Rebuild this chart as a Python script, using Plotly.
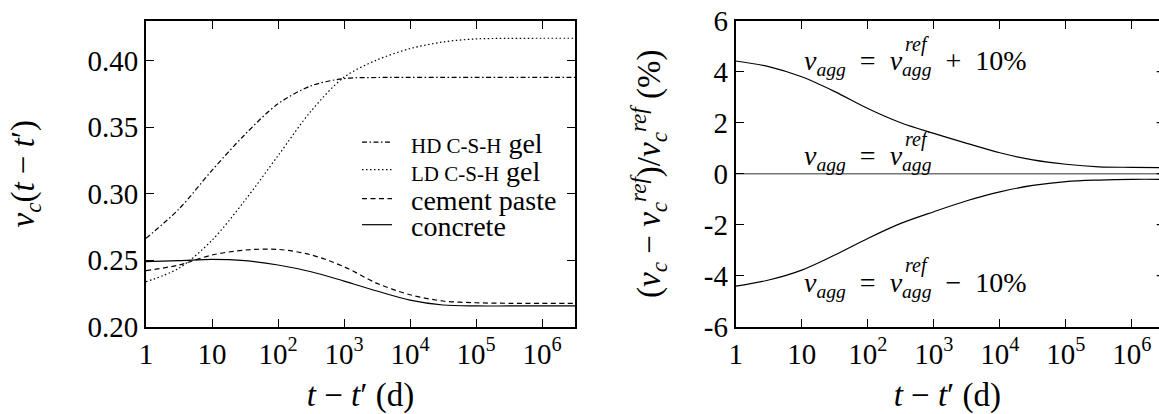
import plotly.graph_objects as go

# ---------------- data ----------------
t_left = [1, 3.162, 10, 31.62, 100, 316.2, 1000, 3162, 1e4, 3.162e4, 1e5, 3.162e5, 1e6, 3.162e6]
hd_csh = [0.2664, 0.2885, 0.3175, 0.3445, 0.3675, 0.3810, 0.3865, 0.3873, 0.3874, 0.3874, 0.3874, 0.3874, 0.3874, 0.3874]
ld_csh = [0.2338, 0.2440, 0.2650, 0.2950, 0.3285, 0.3620, 0.3875, 0.4005, 0.4090, 0.4140, 0.4163, 0.4167, 0.4168, 0.4168]
cement_paste = [0.2421, 0.2464, 0.2539, 0.2576, 0.2581, 0.2540, 0.2451, 0.2326, 0.2240, 0.2193, 0.2180, 0.2176, 0.2176, 0.2176]
concrete = [0.2489, 0.2496, 0.2506, 0.2496, 0.2464, 0.2413, 0.2343, 0.2268, 0.2200, 0.2163, 0.2156, 0.2156, 0.2156, 0.2156]

t_right = [1, 3.162, 10, 31.62, 100, 316.2, 1000, 3162, 1e4, 3.162e4, 1e5, 3.162e5, 1e6, 3.162e6]
agg_plus10 = [4.42, 4.20, 3.80, 3.22, 2.56, 2.00, 1.58, 1.19, 0.82, 0.54, 0.37, 0.27, 0.25, 0.235]
agg_ref = [0, 0, 0, 0, 0, 0, 0, 0, 0, 0, 0, 0, 0, 0]
agg_minus10 = [-4.41, -4.17, -3.78, -3.19, -2.54, -1.95, -1.49, -1.06, -0.71, -0.46, -0.31, -0.25, -0.22, -0.22]

x_tickvals = [1, 10, 100, 1e3, 1e4, 1e5, 1e6]
x_ticktext = ["1", "10", "10<sup>2</sup>", "10<sup>3</sup>", "10<sup>4</sup>", "10<sup>5</sup>", "10<sup>6</sup>"]
yl_tickvals = [0.20, 0.25, 0.30, 0.35, 0.40]
yl_ticktext = ["0.20", "0.25", "0.30", "0.35", "0.40"]
yr_tickvals = [-6, -4, -2, 0, 2, 4, 6]
yr_ticktext = ["-6", "-4", "-2", "0", "2", "4", "6"]

legend_names = [
    "\u00a0\u00a0<span style='font-size:21px'>HD C-S-H</span> gel",
    "\u00a0\u00a0<span style='font-size:21px'>LD C-S-H</span> gel",
    "\u00a0\u00a0cement paste",
    "\u00a0\u00a0concrete",
]

# ---------------- figure ----------------
W, H = 1159, 414
FONT = "Liberation Serif, Times New Roman, serif"
FS_TICK = 29
FS_TITLE = 33
FS_LEG = 28
FS_ANN = 28

fig = go.Figure()

line_specs = [
    (hd_csh, legend_names[0], "5px,2.5px,1.5px,2.5px", "legend"),
    (ld_csh, legend_names[1], "1.5px,2.5px", "legend2"),
    (cement_paste, legend_names[2], "5px,3.5px", "legend3"),
    (concrete, legend_names[3], "solid", "legend4"),
]
for ys, name, dash, lg in line_specs:
    fig.add_trace(go.Scatter(
        x=t_left, y=ys, name=name, mode="lines", legend=lg,
        line=dict(color="black", width=1.2, dash=dash, shape="spline", smoothing=0.9),
        xaxis="x", yaxis="y",
    ))

for ys, col, w in [(agg_plus10, "black", 1.2), (agg_ref, "#777777", 1.6), (agg_minus10, "black", 1.2)]:
    fig.add_trace(go.Scatter(
        x=t_right, y=ys, mode="lines", showlegend=False,
        line=dict(color=col, width=w, shape="spline", smoothing=0.9),
        xaxis="x2", yaxis="y2",
    ))

ydom = [1 - 326.7 / H, 1 - 20.7 / H]


def axis_style():
    return dict(
        showgrid=False, zeroline=False, showline=True, linecolor="black", linewidth=2,
        ticks="inside", ticklen=8, tickwidth=1.3, tickcolor="black", automargin=False,
        tickfont=dict(family=FONT, size=FS_TICK, color="black"),
    )


def title_font():
    return dict(family=FONT, size=FS_TITLE, color="black")


fig.update_layout(
    template="none",
    width=W, height=H, autosize=False,
    margin=dict(l=0, r=0, t=0, b=0),
    paper_bgcolor="white", plot_bgcolor="white",
    font=dict(family=FONT, size=FS_TICK, color="black"),
    xaxis=dict(domain=[146 / W, 575 / W], type="log", range=[0, 6.5], anchor="y",
               tickvals=x_tickvals, ticktext=x_ticktext, mirror="ticks",
               title=dict(text="<i>t</i> − <i>t</i>′ (d)", standoff=14, font=title_font()), **axis_style()),
    yaxis=dict(domain=ydom, range=[0.2, 0.43], anchor="x",
               tickvals=yl_tickvals, ticktext=yl_ticktext, mirror="ticks",
               title=dict(text="<i>ν<sub>c</sub></i>(<i>t</i> − <i>t</i>′)", standoff=43, font=title_font()),
               **axis_style()),
    xaxis2=dict(domain=[735.7 / W, 1.0], type="log", range=[0, 6.41], anchor="y2",
                tickvals=x_tickvals, ticktext=x_ticktext, mirror="ticks",
                title=dict(text="<i>t</i> − <i>t</i>′ (d)", standoff=14, font=title_font()), **axis_style()),
    yaxis2=dict(domain=ydom, range=[-6, 6], anchor="x2",
                tickvals=yr_tickvals, ticktext=yr_ticktext, mirror=False,
                title=dict(text="(<i>ν<sub>c</sub></i> − <i>ν<sub>c</sub><sup>ref</sup></i>)/<i>ν<sub>c</sub><sup>ref</sup></i> (%)",
                           standoff=33, font=title_font()),
                **axis_style()),
)


def leg(yp):
    return dict(x=357 / W, y=1 - yp / H, xanchor="left", yanchor="middle",
                bgcolor="rgba(0,0,0,0)", borderwidth=0,
                font=dict(family=FONT, size=FS_LEG, color="black"))


fig.update_layout(legend=leg(142.5), legend2=leg(170.0), legend3=leg(199.0), legend4=leg(225.0))

# annotations in right panel
SP = "\u2002"
for yv, tail in [(4.35, SP + "+" + SP + "10%"), (0.62, ""), (-4.33, SP + "−" + SP + "10%")]:
    fig.add_annotation(x=1.0, y=yv, xref="x2", yref="y2", xanchor="left", yanchor="middle",
                       showarrow=False, font=dict(family=FONT, size=FS_ANN, color="black"),
                       text="<i>ν<sub>agg</sub></i>" + SP + "=" + SP + "<i>ν<sub>agg</sub></i>" + tail)
    fig.add_annotation(x=2.54, y=yv + 0.72, xref="x2", yref="y2", xanchor="left", yanchor="middle",
                       showarrow=False, font=dict(family=FONT, size=20, color="black"), text="<i>ref</i>")

# right-edge mirror tick stubs (plot box extends past the image edge)
for v in [-4, -2, 0, 2, 4]:
    fig.add_shape(type="line", xref="x2 domain", yref="y2", x0=0.9946, x1=1.0, y0=v, y1=v,
                  line=dict(color="black", width=1.3))

fig.write_html("out.html", config={"displayModeBar": False},
               post_script="document.body.style.margin='0px';")
